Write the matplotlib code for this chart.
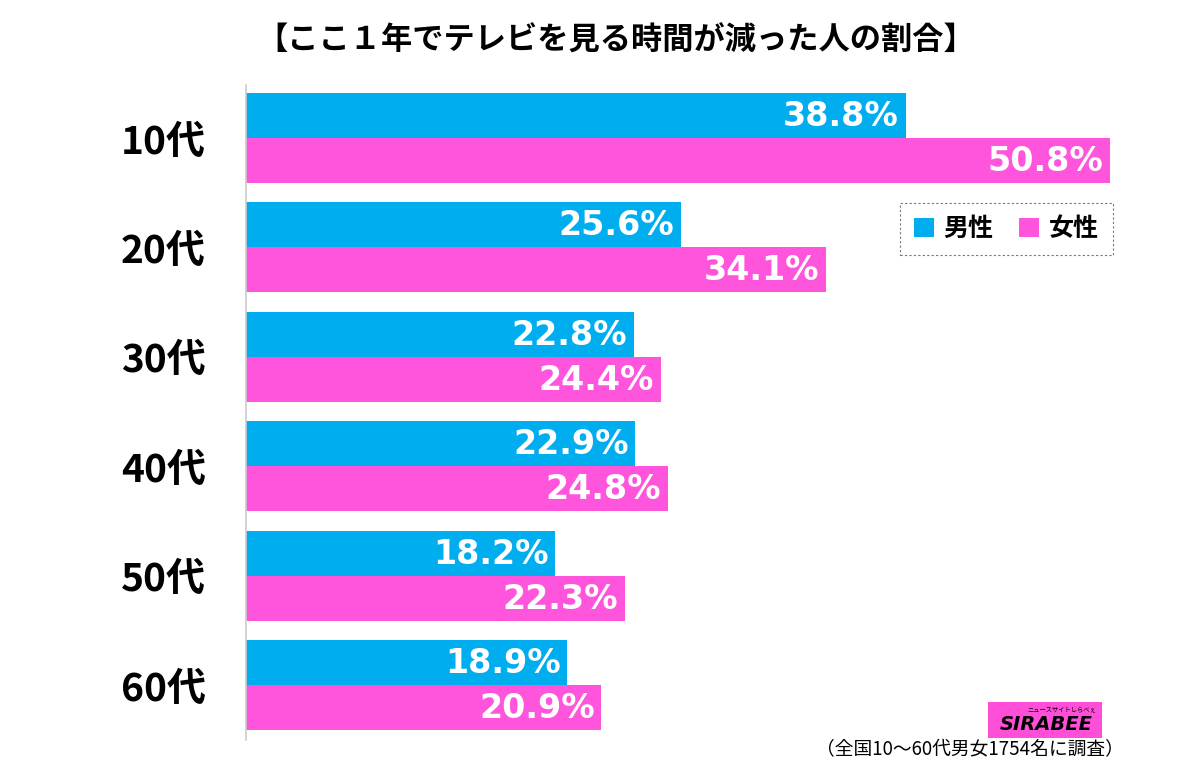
import matplotlib
matplotlib.use("Agg")
import matplotlib.pyplot as plt
from matplotlib.patches import Rectangle
import numpy as np

categories = ["10代", "20代", "30代", "40代", "50代", "60代"]
male = [38.8, 25.6, 22.8, 22.9, 18.2, 18.9]
female = [50.8, 34.1, 24.4, 24.8, 22.3, 20.9]
series_names = ["男性", "女性"]
title = "【ここ１年でテレビを見る時間が減った人の割合】"
note = "（全国10〜60代男女1754名に調査）"

BLUE = "#00AEEF"
PINK = "#FF55DD"
plt.rcParams['font.family'] = ['Noto Sans CJK JP', 'DejaVu Sans']

W, H = 1200, 761
fig = plt.figure(figsize=(W/100, H/100), dpi=100)
x0 = 246
xmax = 55
ax_w = xmax * 17
top, bottom = 85, 740
ax = fig.add_axes([x0/W, 1 - bottom/H, ax_w/W, (bottom-top)/H])

n = len(categories)
spacing = 109.4
centers = np.array([138 + i*spacing for i in range(n)])
bh = 45
ax.set_ylim(bottom, top)
ax.set_xlim(0, xmax)

ax.barh(centers - bh/2, male, height=bh, color=BLUE, label=series_names[0])
ax.barh(centers + bh/2, female, height=bh, color=PINK, label=series_names[1])

for c, m, f in zip(centers, male, female):
    ax.text(m - 0.4, c - bh/2 + 1, f"{m:.1f}%", color="white", fontsize=24,
            fontweight="bold", ha="right", va="center", family="DejaVu Sans")
    ax.text(f - 0.4, c + bh/2 + 1, f"{f:.1f}%", color="white", fontsize=24,
            fontweight="bold", ha="right", va="center", family="DejaVu Sans")

ax.set_yticks(centers)
ax.set_yticklabels(categories, fontsize=28, fontweight="bold")
ax.tick_params(axis="y", length=0, pad=29)
ax.set_xticks([])
for s in ["top", "right", "bottom"]:
    ax.spines[s].set_visible(False)
ax.spines["left"].set_color("#cccccc")
ax.spines["left"].set_linewidth(1.2)

fig.text(616/W, 1 - 41/H, title, ha="center", va="center", fontsize=22.5, fontweight="bold")

leg = ax.legend(loc="upper left", bbox_to_anchor=((900-x0)/ax_w, 1 - (203-top)/(bottom-top)),
                borderaxespad=0, frameon=True, handlelength=0.8, handleheight=0.8,
                handletextpad=0.4, ncol=2, columnspacing=1.0, fancybox=False,
                borderpad=0.55, prop={'weight': 'bold', 'size': 18})
leg.get_frame().set_edgecolor("#555555")
leg.get_frame().set_linestyle((0, (2, 2)))
leg.get_frame().set_linewidth(0.8)

# logo
fig.patches.append(Rectangle((988/W, 1 - 738/H), 114/W, 36/H, transform=fig.transFigure,
                             facecolor="#FF4FD8", edgecolor="none"))
fig.text(1046/W, 1 - 724/H, "SIRABEE", ha="center", va="center", fontsize=14,
         fontweight="bold", style="italic", color="black", family="DejaVu Sans")
fig.text(1062/W, 1 - 709/H, "ニュースサイトしらべぇ", ha="center", va="center", fontsize=4.5,
         color="black")

fig.text(1124/W, 1 - 750/H, note, ha="right", va="center", fontsize=13.5)

fig.savefig("out.png", dpi=100)
